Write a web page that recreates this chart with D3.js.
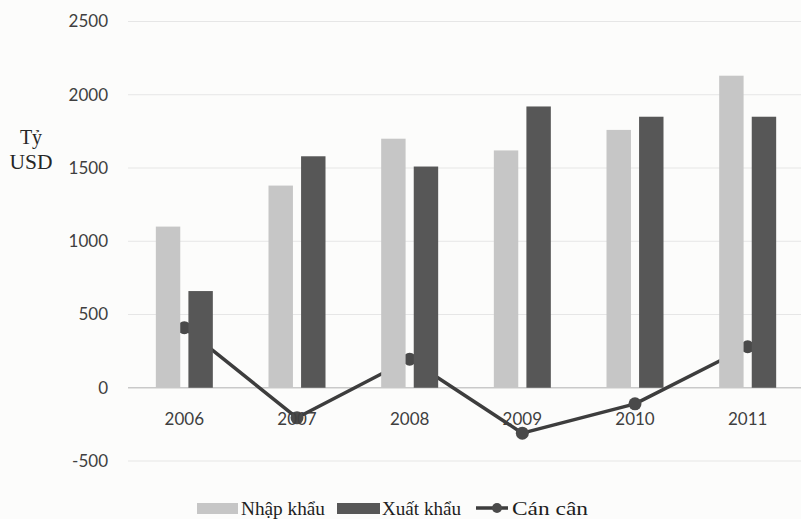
<!DOCTYPE html>
<html>
<head>
<meta charset="utf-8">
<script src="https://cdn.jsdelivr.net/npm/d3@7"></script>
<style>
    body { margin: 0; background: #fcfcfb; }
    #demo { width: 801px; height: 519px; }
</style>
</head>
<body>
<div id="demo"></div>
<script>
// chart data
const years = ["2006", "2007", "2008", "2009", "2010", "2011"];
const nhapKhau = [1100, 1380, 1700, 1620, 1760, 2130];
const xuatKhau = [660, 1580, 1510, 1920, 1850, 1850];
const canCan = [410, -205, 195, -310, -110, 280];
const yTicks = [-500, 0, 500, 1000, 1500, 2000, 2500];
const seriesNames = ["Nhập khẩu", "Xuất khẩu", "Cán cân"];

let w = 801;
let h = 519;

let svg = d3.select("#demo")
    .append("svg")
    .attr("width", w)
    .attr("height", h);

// x scale for the year groups, y scale for values
let x = d3.scaleBand()
    .domain(years)
    .range([128, 804]);

let y = d3.scaleLinear()
    .domain([-500, 2500])
    .range([461, 21.5]);

// inner scale for the two bars in a group
let x1 = d3.scaleBand()
    .domain(["nk", "xk"])
    .range([x.bandwidth() / 2 - 28.5, x.bandwidth() / 2 + 28.5])
    .paddingInner(0.25);

//Gridlines
svg.append("g")
    .selectAll("line")
    .data(yTicks)
    .enter()
    .append("line")
    .attr("x1", 128)
    .attr("x2", w)
    .attr("y1", d => y(d))
    .attr("y2", d => y(d))
    .attr("stroke", d => d === 0 ? "#c9c9c9" : "#e6e6e6")
    .attr("stroke-width", d => d === 0 ? 1.5 : 1.2);

//Y axis labels
const yAxis = d3.axisLeft(y)
    .tickValues(yTicks)
    .tickFormat(d => String(d).replace("\u2212", "-"))
    .tickSize(0)
    .tickPadding(0);
const gy = svg.append("g")
    .attr("transform", "translate(108,0)")
    .call(yAxis);
gy.select(".domain").remove();
gy.selectAll("text")
    .attr("font-family", "Lato, 'Open Sans', sans-serif")
    .attr("font-size", 17)
    .attr("fill", "#3f3f3f");

//Balance line goes behind the bars
let line = d3.line()
    .x((d, i) => x(years[i]) + x.bandwidth() / 2)
    .y(d => y(d));

svg.append("path")
    .datum(canCan)
    .attr("d", line)
    .attr("fill", "none")
    .attr("stroke", "#3d3d3d")
    .attr("stroke-width", 3.5)
    .attr("stroke-linejoin", "round");

svg.append("g")
    .selectAll("circle")
    .data(canCan)
    .enter()
    .append("circle")
    .attr("cx", (d, i) => x(years[i]) + x.bandwidth() / 2)
    .attr("cy", d => y(d))
    .attr("r", 6.5)
    .attr("fill", "#4a4a4a");

//Bars
const groups = svg.append("g")
    .selectAll("g")
    .data(years)
    .enter()
    .append("g")
    .attr("transform", d => "translate(" + x(d) + ",0)");

groups.append("rect")
    .attr("x", x1("nk"))
    .attr("y", (d, i) => y(nhapKhau[i]))
    .attr("width", x1.bandwidth())
    .attr("height", (d, i) => y(0) - y(nhapKhau[i]))
    .attr("fill", "#c6c6c6");

groups.append("rect")
    .attr("x", x1("xk"))
    .attr("y", (d, i) => y(xuatKhau[i]))
    .attr("width", x1.bandwidth())
    .attr("height", (d, i) => y(0) - y(xuatKhau[i]))
    .attr("fill", "#575757");

//X axis labels
const xAxis = d3.axisBottom(x).tickSize(0).tickPadding(0);
const gx = svg.append("g")
    .attr("transform", "translate(0,413)")
    .call(xAxis);
gx.select(".domain").remove();
gx.selectAll("text")
    .attr("dy", "0.72em")
    .attr("font-family", "Lato, 'Open Sans', sans-serif")
    .attr("font-size", 17)
    .attr("fill", "#3f3f3f");

//Axis title
const serif = "'Liberation Serif', 'DejaVu Serif', serif";
svg.append("text")
    .attr("x", 31)
    .attr("y", 144)
    .attr("text-anchor", "middle")
    .attr("font-family", serif)
    .attr("font-size", 20)
    .attr("fill", "#262626")
    .text("Tỷ");
svg.append("text")
    .attr("x", 31)
    .attr("y", 169)
    .attr("text-anchor", "middle")
    .attr("textLength", 43)
    .attr("lengthAdjust", "spacingAndGlyphs")
    .attr("font-family", serif)
    .attr("font-size", 20)
    .attr("fill", "#262626")
    .text("USD");

//Legend
const legend = svg.append("g").attr("id", "legend");
const legendY = 508;

legend.append("rect")
    .attr("x", 197).attr("y", legendY - 5)
    .attr("width", 41).attr("height", 11)
    .attr("fill", "#c6c6c6");
legend.append("rect")
    .attr("x", 337).attr("y", legendY - 5)
    .attr("width", 43).attr("height", 11)
    .attr("fill", "#575757");
legend.append("line")
    .attr("x1", 476).attr("x2", 508)
    .attr("y1", legendY).attr("y2", legendY)
    .attr("stroke", "#3d3d3d")
    .attr("stroke-width", 3.5);
legend.append("circle")
    .attr("cx", 497).attr("cy", legendY)
    .attr("r", 5)
    .attr("fill", "#4a4a4a");

let textX = [241, 382, 512];
let textLen = [84, 79, 76];
legend.selectAll("text")
    .data(seriesNames)
    .enter()
    .append("text")
    .attr("x", (d, i) => textX[i])
    .attr("y", legendY + 7)
    .attr("textLength", (d, i) => textLen[i])
    .attr("lengthAdjust", "spacingAndGlyphs")
    .attr("font-family", serif)
    .attr("font-size", 19)
    .attr("fill", "#1e1e1e")
    .text(d => d);
</script>
</body>
</html>
